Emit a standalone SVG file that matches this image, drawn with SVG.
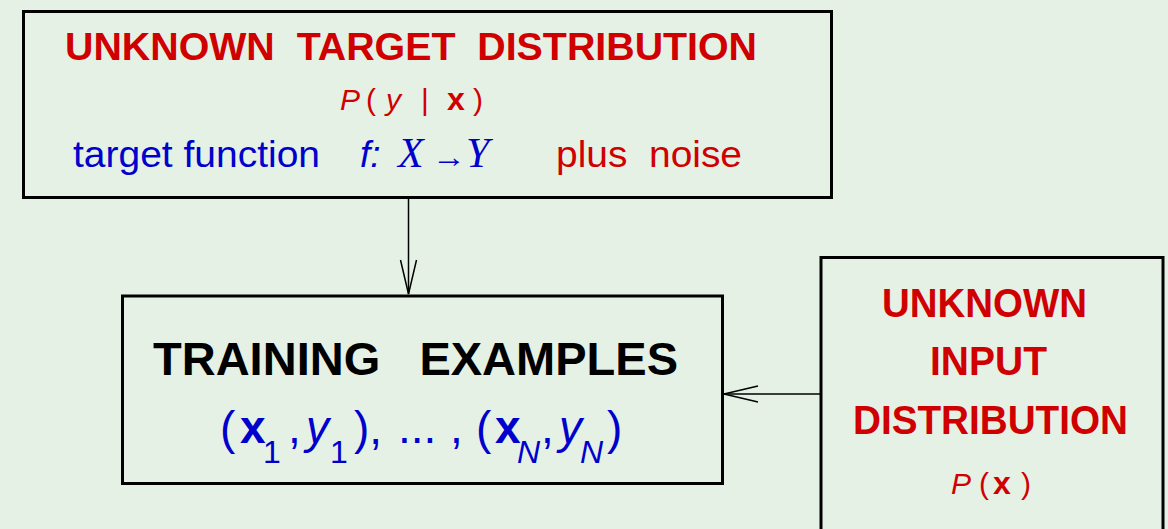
<svg xmlns="http://www.w3.org/2000/svg" width="1168" height="529" viewBox="0 0 1168 529">
<style>
.box{fill:#e5f1e5;stroke:#000;stroke-width:3}
.conn{stroke:#000;stroke-width:1.5;fill:none}
.t{font-family:"Liberation Sans",Arial,sans-serif}
.b{font-weight:bold}
.i{font-style:italic}
.red{fill:#d00000}
.blue{fill:#0000cc}
.blk{fill:#000}
.serif{font-family:"Liberation Serif","DejaVu Serif",serif;font-style:italic}
</style>
<rect x="0" y="0" width="1168" height="529" fill="#e5f1e5"/>
<g id="connectors">
  <line class="conn" x1="408.5" y1="198" x2="408.5" y2="294"/>
  <polyline class="conn" points="400.5,260 408.5,294 416.5,260"/>
  <line class="conn" x1="820" y1="394" x2="724" y2="394"/>
  <polyline class="conn" points="758,386 724,394 758,402"/>
</g>
<g id="target">
  <rect class="box" x="23.5" y="11.5" width="808" height="186"/>
  <text class="t b red" x="65" y="60" font-size="39" textLength="692" lengthAdjust="spacingAndGlyphs" xml:space="preserve">UNKNOWN  TARGET  DISTRIBUTION</text>
  <text class="t red" y="110" font-size="30"><tspan class="i" x="340">P</tspan><tspan x="366">(</tspan><tspan class="i" x="386">y</tspan><tspan x="421">|</tspan><tspan class="b" x="447" font-size="32">x</tspan><tspan x="473">)</tspan></text>
  <text class="t blue" x="73" y="167" font-size="37" textLength="247" lengthAdjust="spacingAndGlyphs">target function</text>
  <text class="t i blue" x="360" y="167" font-size="37">f:</text>
  <text class="serif blue" x="398" y="167" font-size="42">X</text>
  <text class="t blue" x="432" y="167" font-size="30" textLength="34" lengthAdjust="spacingAndGlyphs">→</text>
  <text class="serif blue" x="466" y="167" font-size="42">Y</text>
  <text class="t red" x="556" y="167" font-size="37" textLength="186" lengthAdjust="spacingAndGlyphs" xml:space="preserve">plus  noise</text>
</g>
<g id="training">
  <rect class="box" x="122.5" y="296" width="600" height="187.5"/>
  <text class="t b blk" x="153" y="375" font-size="47" textLength="525" lengthAdjust="spacingAndGlyphs" xml:space="preserve">TRAINING   EXAMPLES</text>
  <text class="t blue" font-size="46">
    <tspan x="220" y="444">(</tspan><tspan class="b" x="240" y="443">x</tspan><tspan x="263" y="463" font-size="32">1</tspan><tspan x="288" y="443">,</tspan><tspan class="i" x="306" y="443">y</tspan><tspan x="330" y="463" font-size="32">1</tspan><tspan x="354" y="444">),</tspan><tspan x="398" y="443">...</tspan><tspan x="450" y="443">,</tspan><tspan x="476" y="444">(</tspan><tspan class="b" x="495" y="443">x</tspan><tspan class="i" x="517" y="463" font-size="32">N</tspan><tspan x="541" y="443">,</tspan><tspan class="i" x="559" y="443">y</tspan><tspan class="i" x="580" y="463" font-size="32">N</tspan><tspan x="607" y="444">)</tspan>
  </text>
</g>
<g id="input">
  <rect class="box" x="821" y="257.5" width="342" height="290"/>
  <text class="t b red" x="882" y="317" font-size="40" textLength="205" lengthAdjust="spacingAndGlyphs">UNKNOWN</text>
  <text class="t b red" x="930" y="375" font-size="40" textLength="117" lengthAdjust="spacingAndGlyphs">INPUT</text>
  <text class="t b red" x="853" y="434" font-size="40" textLength="275" lengthAdjust="spacingAndGlyphs">DISTRIBUTION</text>
  <text class="t red" y="494" font-size="30"><tspan class="i" x="951">P</tspan><tspan x="979">(</tspan><tspan class="b" x="993" font-size="32">x</tspan><tspan x="1021">)</tspan></text>
</g>
</svg>
